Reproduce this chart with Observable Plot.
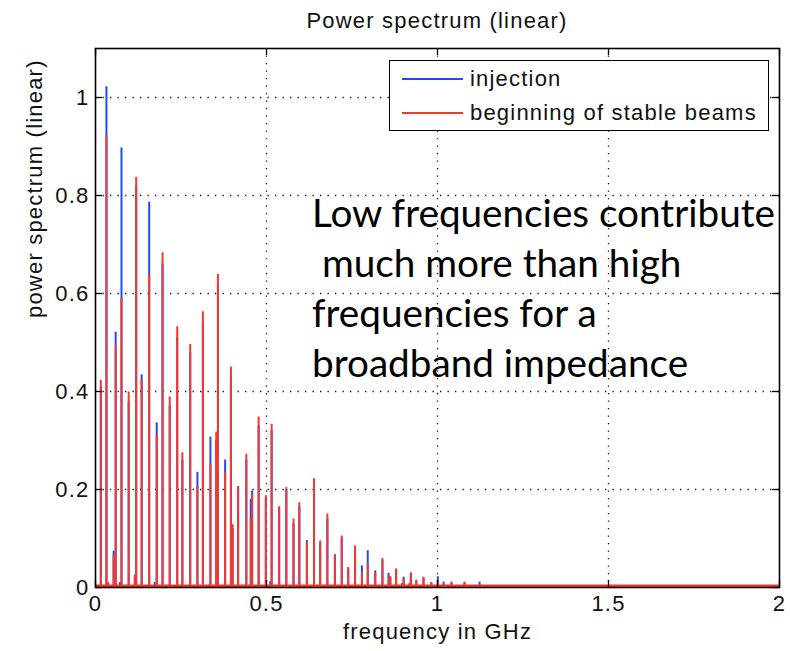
<!DOCTYPE html>
<html>
<head>
<meta charset="utf-8">
<script src="https://cdn.jsdelivr.net/npm/d3@7"></script>
<script src="https://cdn.jsdelivr.net/npm/@observablehq/plot@0.6"></script>
<style>
  body { margin: 0; background: #fff; }
  #wrap { position: relative; width: 790px; height: 651px; overflow: hidden; }
  #title { position: relative; height: 40px; }
  #title span {
    position: absolute; left: 95px; width: 684px; top: 8px; text-align: center;
    font: 22px "Liberation Sans", Arial, sans-serif; line-height: 26px;
    letter-spacing: 1.2px; color: #111;
  }
  #chart svg text { letter-spacing: 1.2px; }
  #legend {
    position: absolute; left: 389px; top: 60px; width: 378px; height: 69px;
    border: 1.5px solid #000; background: #fff;
    font: 22px "Liberation Sans", Arial, sans-serif; letter-spacing: 1.2px; color: #111;
  }
  #legend .row { position: absolute; left: 0; height: 30px; width: 100%; }
  #legend .sw { position: absolute; left: 12px; top: 14px; width: 61px; height: 2px; }
  #legend .lb { position: absolute; left: 80px; top: 0; line-height: 30px; white-space: nowrap; }
  #note {
    position: absolute; left: 312px; top: 187px;
    font: 38.7px Lato, "Open Sans", sans-serif; line-height: 50px; color: #000;
    white-space: pre;
  }
</style>
</head>
<body>
<div id="wrap">
  <div id="title"><span></span></div>
  <div id="chart"></div>
  <div id="legend"></div>
  <div id="note"></div>
</div>
<script>
// Harmonic lines of the bunch power spectrum (frequency in GHz)
const freq = [0.0155, 0.032, 0.037, 0.053, 0.059, 0.071, 0.076, 0.097, 0.115, 0.119,
  0.135, 0.157, 0.173, 0.179, 0.196, 0.217, 0.239, 0.254, 0.277, 0.298,
  0.314, 0.336, 0.353, 0.358, 0.379, 0.396, 0.401, 0.417, 0.441, 0.454,
  0.458, 0.477, 0.498, 0.511, 0.515, 0.537, 0.558, 0.579, 0.596, 0.618,
  0.639, 0.657, 0.678, 0.700, 0.720, 0.739, 0.759, 0.779, 0.796, 0.818,
  0.839, 0.857, 0.862, 0.879, 0.896, 0.901, 0.918, 0.922, 0.938, 0.959,
  0.982, 1.001, 1.018, 1.041, 1.079, 1.123];

// Power at injection
const injection = [0.41, 1.022, 0.008, 0.074, 0.521, 0.010, 0.897, 0.38, 0.02, 0.82,
  0.434, 0.786, 0.010, 0.336, 0.66, 0.37, 0.51, 0.26, 0.48, 0.235,
  0.54, 0.307, 0.30, 0.62, 0.26, 0.43, 0.12, 0.206, 0.26, 0.18,
  0.197, 0.33, 0.18, 0.012, 0.32, 0.16, 0.20, 0.13, 0.165, 0.096,
  0.21, 0.09, 0.14, 0.067, 0.10, 0.038, 0.08, 0.044, 0.075, 0.034,
  0.055, 0.029, 0.022, 0.035, 0.008, 0.021, 0.006, 0.028, 0.013, 0.019,
  0.010, 0.022, 0.011, 0.009, 0.009, 0.011];

// Power at the beginning of stable beams
const stableBeams = [0.423, 0.922, 0.010, 0.065, 0.494, 0.003, 0.590, 0.399, 0.026, 0.837,
  0.424, 0.639, 0.003, 0.310, 0.683, 0.389, 0.532, 0.275, 0.496, 0.204,
  0.563, 0.252, 0.317, 0.639, 0.235, 0.45, 0.128, 0.204, 0.272, 0.14,
  0.19, 0.348, 0.1875, 0.004, 0.333, 0.165, 0.204, 0.14, 0.173, 0.093,
  0.222, 0.095, 0.15, 0.065, 0.105, 0.041, 0.085, 0.030, 0.048, 0.030,
  0.059, 0.025, 0.020, 0.038, 0.002, 0.018, 0.008, 0.030, 0.015, 0.021,
  0.008, 0.015, 0.008, 0.011, 0.011, 0.003];

const xTicks = [0, 0.5, 1, 1.5, 2];
const yTicks = [0, 0.2, 0.4, 0.6, 0.8, 1];
const xGrid = [0.5, 1, 1.5];
const yGrid = [0.2, 0.4, 0.6, 0.8, 1];

const seriesNames = ["injection", "beginning of stable beams"];
const seriesColors = ["#1f4cf2", "#f2392e"];

const titleText = "Power spectrum (linear)";
const xLabel = "frequency in GHz";
const yLabel = "power spectrum (linear)";
const noteLines = ["Low frequencies contribute", " much more than high", "frequencies for a", "broadband impedance"];

const rows = freq.map((f, i) => ({f, inj: injection[i], stb: stableBeams[i]}));

const W = 790, H = 611;
const mT = 8, mB = 64, mL = 95, mR = 11;
const plotW = W - mL - mR, plotH = H - mT - mB;
const tickLen = 7;
const dotted = {stroke: "#111", strokeWidth: 1.3, strokeDasharray: "1.3,6.2"};

const chart = Plot.plot({
  width: W, height: H,
  marginTop: mT, marginBottom: mB, marginLeft: mL, marginRight: mR,
  x: {domain: [0, 2]},
  y: {domain: [0, 1.1]},
  style: {fontFamily: "'Liberation Sans', Arial, sans-serif", fontSize: "22px", color: "#111", background: "#fff"},
  marks: [
    Plot.ruleX(xGrid, {x: d => d, ...dotted}),
    Plot.ruleY(yGrid, {y: d => d, ...dotted}),
    Plot.ruleX(rows, {x: "f", y1: 0, y2: "inj", stroke: seriesColors[0], strokeWidth: 2}),
    Plot.ruleY([0], {y: d => d, stroke: seriesColors[1], strokeWidth: 3, dy: -1.5}),
    Plot.ruleX(rows, {x: "f", y1: 0, y2: "stb", stroke: seriesColors[1], strokeWidth: 2}),
    Plot.tickX(xTicks, {x: d => d, insetTop: plotH - tickLen, stroke: "#000", strokeWidth: 1.3}),
    Plot.tickX(xTicks, {x: d => d, insetBottom: plotH - tickLen, stroke: "#000", strokeWidth: 1.3}),
    Plot.tickY(yTicks, {y: d => d, insetRight: plotW - tickLen, stroke: "#000", strokeWidth: 1.3}),
    Plot.tickY(yTicks, {y: d => d, insetLeft: plotW - tickLen, stroke: "#000", strokeWidth: 1.3}),
    Plot.frame({stroke: "#000", strokeWidth: 1.6}),
    Plot.axisX(xTicks, {tickSize: 0, tickPadding: 8, tickFormat: d => String(d), label: null, fill: "#111"}),
    Plot.axisY(yTicks, {tickSize: 0, tickPadding: 6, tickFormat: d => String(d), label: null, fill: "#111"}),
    Plot.text([xLabel], {text: d => d, frameAnchor: "bottom", dy: 51, fill: "#111"}),
    Plot.text([yLabel], {text: d => d, frameAnchor: "left", rotate: -90, dx: -61, fill: "#111"})
  ]
});
document.getElementById("chart").appendChild(chart);

document.querySelector("#title span").textContent = titleText;

const legend = document.getElementById("legend");
seriesNames.forEach((name, i) => {
  const row = document.createElement("div");
  row.className = "row";
  row.style.top = (3 + i * 34) + "px";
  const sw = document.createElement("div");
  sw.className = "sw";
  sw.style.background = seriesColors[i];
  const lb = document.createElement("div");
  lb.className = "lb";
  lb.textContent = name;
  row.appendChild(sw);
  row.appendChild(lb);
  legend.appendChild(row);
});

document.getElementById("note").textContent = noteLines.join("\n");
</script>
</body>
</html>
